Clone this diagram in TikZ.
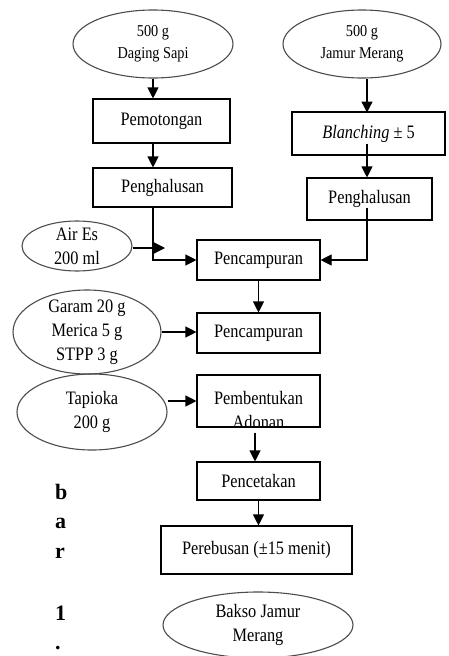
\documentclass[tikz,border=0pt]{standalone}
\usepackage{fontspec}
\setmainfont{Liberation Serif}[FakeStretch=0.86]
\newfontfamily\barfont{Liberation Serif}
\usetikzlibrary{positioning,arrows.meta,shapes.geometric}

\begin{document}
\begin{tikzpicture}[
  x=1pt, y=-1pt,
  font=\fontsize{19}{24}\selectfont,
  box/.style={draw, line width=1.1pt, align=center, inner sep=2pt},
  mid/.style={box, minimum width=123pt},
  bahan/.style={draw=black!70, line width=1.1pt, ellipse, align=center, inner sep=-10pt},
  kecil/.style={font=\fontsize{16.6}{22}\selectfont},
  flow/.style={-{Triangle[length=11pt,width=11pt]}, line width=1.1pt},
  huruf/.style={font=\barfont\bfseries\fontsize{22}{22}\selectfont, anchor=base west, inner sep=0pt}]

\useasboundingbox (0,0) rectangle (449,656);

% bahan awal
\node[bahan, kecil, minimum width=160pt, minimum height=68pt] (daging) at (153,44) {500 g\\Daging Sapi};
\node[bahan, kecil, minimum width=158pt, minimum height=68pt] (jamur) at (362,44) {500 g\\Jamur Merang};

\node[box, minimum width=137pt, minimum height=44pt] (potong) at (161.5,121) {Pemotongan};
\node[box, minimum width=139pt, minimum height=39pt] (halus1) at (162.5,187.5) {Penghalusan};
\node[box, minimum width=153pt, minimum height=43pt] (blanch) at (368.5,133.5) {\textit{Blanching} ± 5};
\node[box, minimum width=125pt, minimum height=42pt] (halus2) at (369.5,199) {Penghalusan};

\node[bahan, minimum width=110pt, minimum height=50pt] (airs) at (77,246) {Air Es\\200 ml};
\coordinate (temu) at (165,248);
\node[mid, minimum height=40pt] (campur1) at (258.5,260) {Pencampuran};

\node[bahan, minimum width=148pt, minimum height=84pt] (garam) at (87,332) {Garam 20 g\\Merica 5 g\\STPP 3 g};
\node[mid, minimum height=40pt] (campur2) at (258.5,333) {Pencampuran};

\node[bahan, minimum width=150pt, minimum height=76pt] (tapioka) at (92,412) {Tapioka\\200 g};
\node[mid, minimum height=52pt] (bentuk) at (258.5,401) {};
\begin{scope}
  \clip (bentuk.south west) rectangle (bentuk.north east);
  \node[align=center] (bentuktxt) at (258.5,410) {Pembentukan\\Adonan};
\end{scope}

\node[mid, minimum height=38pt] (cetak) at (258.5,481) {Pencetakan};
\node[box, minimum width=191pt, minimum height=48pt] (rebus) at (256.5,550) {Perebusan (±15 menit)};
\node[bahan, minimum width=190pt, minimum height=66pt] (bakso) at (258,625) {Bakso Jamur\\Merang};

% huruf tepi kiri
\node[huruf] (h1) at (55,499) {b};
\node[huruf] (h2) at (55,528) {a};
\node[huruf] (h3) at (55,558) {r};
\node[huruf] (h4) at (55,620) {1};
\node[huruf] (h5) at (55,649) {.};

\draw[flow] (daging.south) -- (daging.south |- potong.north);
\draw[flow] ([xshift=-8.5pt]potong.south) -- ([xshift=-8.5pt]potong.south |- halus1.north);
\draw[flow] ([xshift=-9.5pt]halus1.south) |- (campur1.west);
\draw[flow] (airs.east |- temu) -- (temu);
\draw[flow] (jamur.south -| blanch.south) ++(-1.5,0) -- ++(0,34);
\draw[flow] ([xshift=-1.5pt,yshift=12pt]blanch.south) -- ([xshift=-1.5pt]blanch.south |- halus2.north);
\draw[flow] ([xshift=-2.5pt,yshift=13pt]halus2.south) |- (campur1.east);
\draw[flow] (campur1.south) -- (campur2.north);
\draw[flow] (garam.east) -- (garam.east -| campur2.west);
\draw[flow] (tapioka.east |- bentuk.west) -- (bentuk.west);
\draw[flow] ([xshift=-3.5pt,yshift=-5pt]bentuk.south) -- ([xshift=-3.5pt]bentuk.south |- cetak.north);
\draw[flow] (cetak.south) -- (cetak.south |- rebus.north);
\end{tikzpicture}
\end{document}
